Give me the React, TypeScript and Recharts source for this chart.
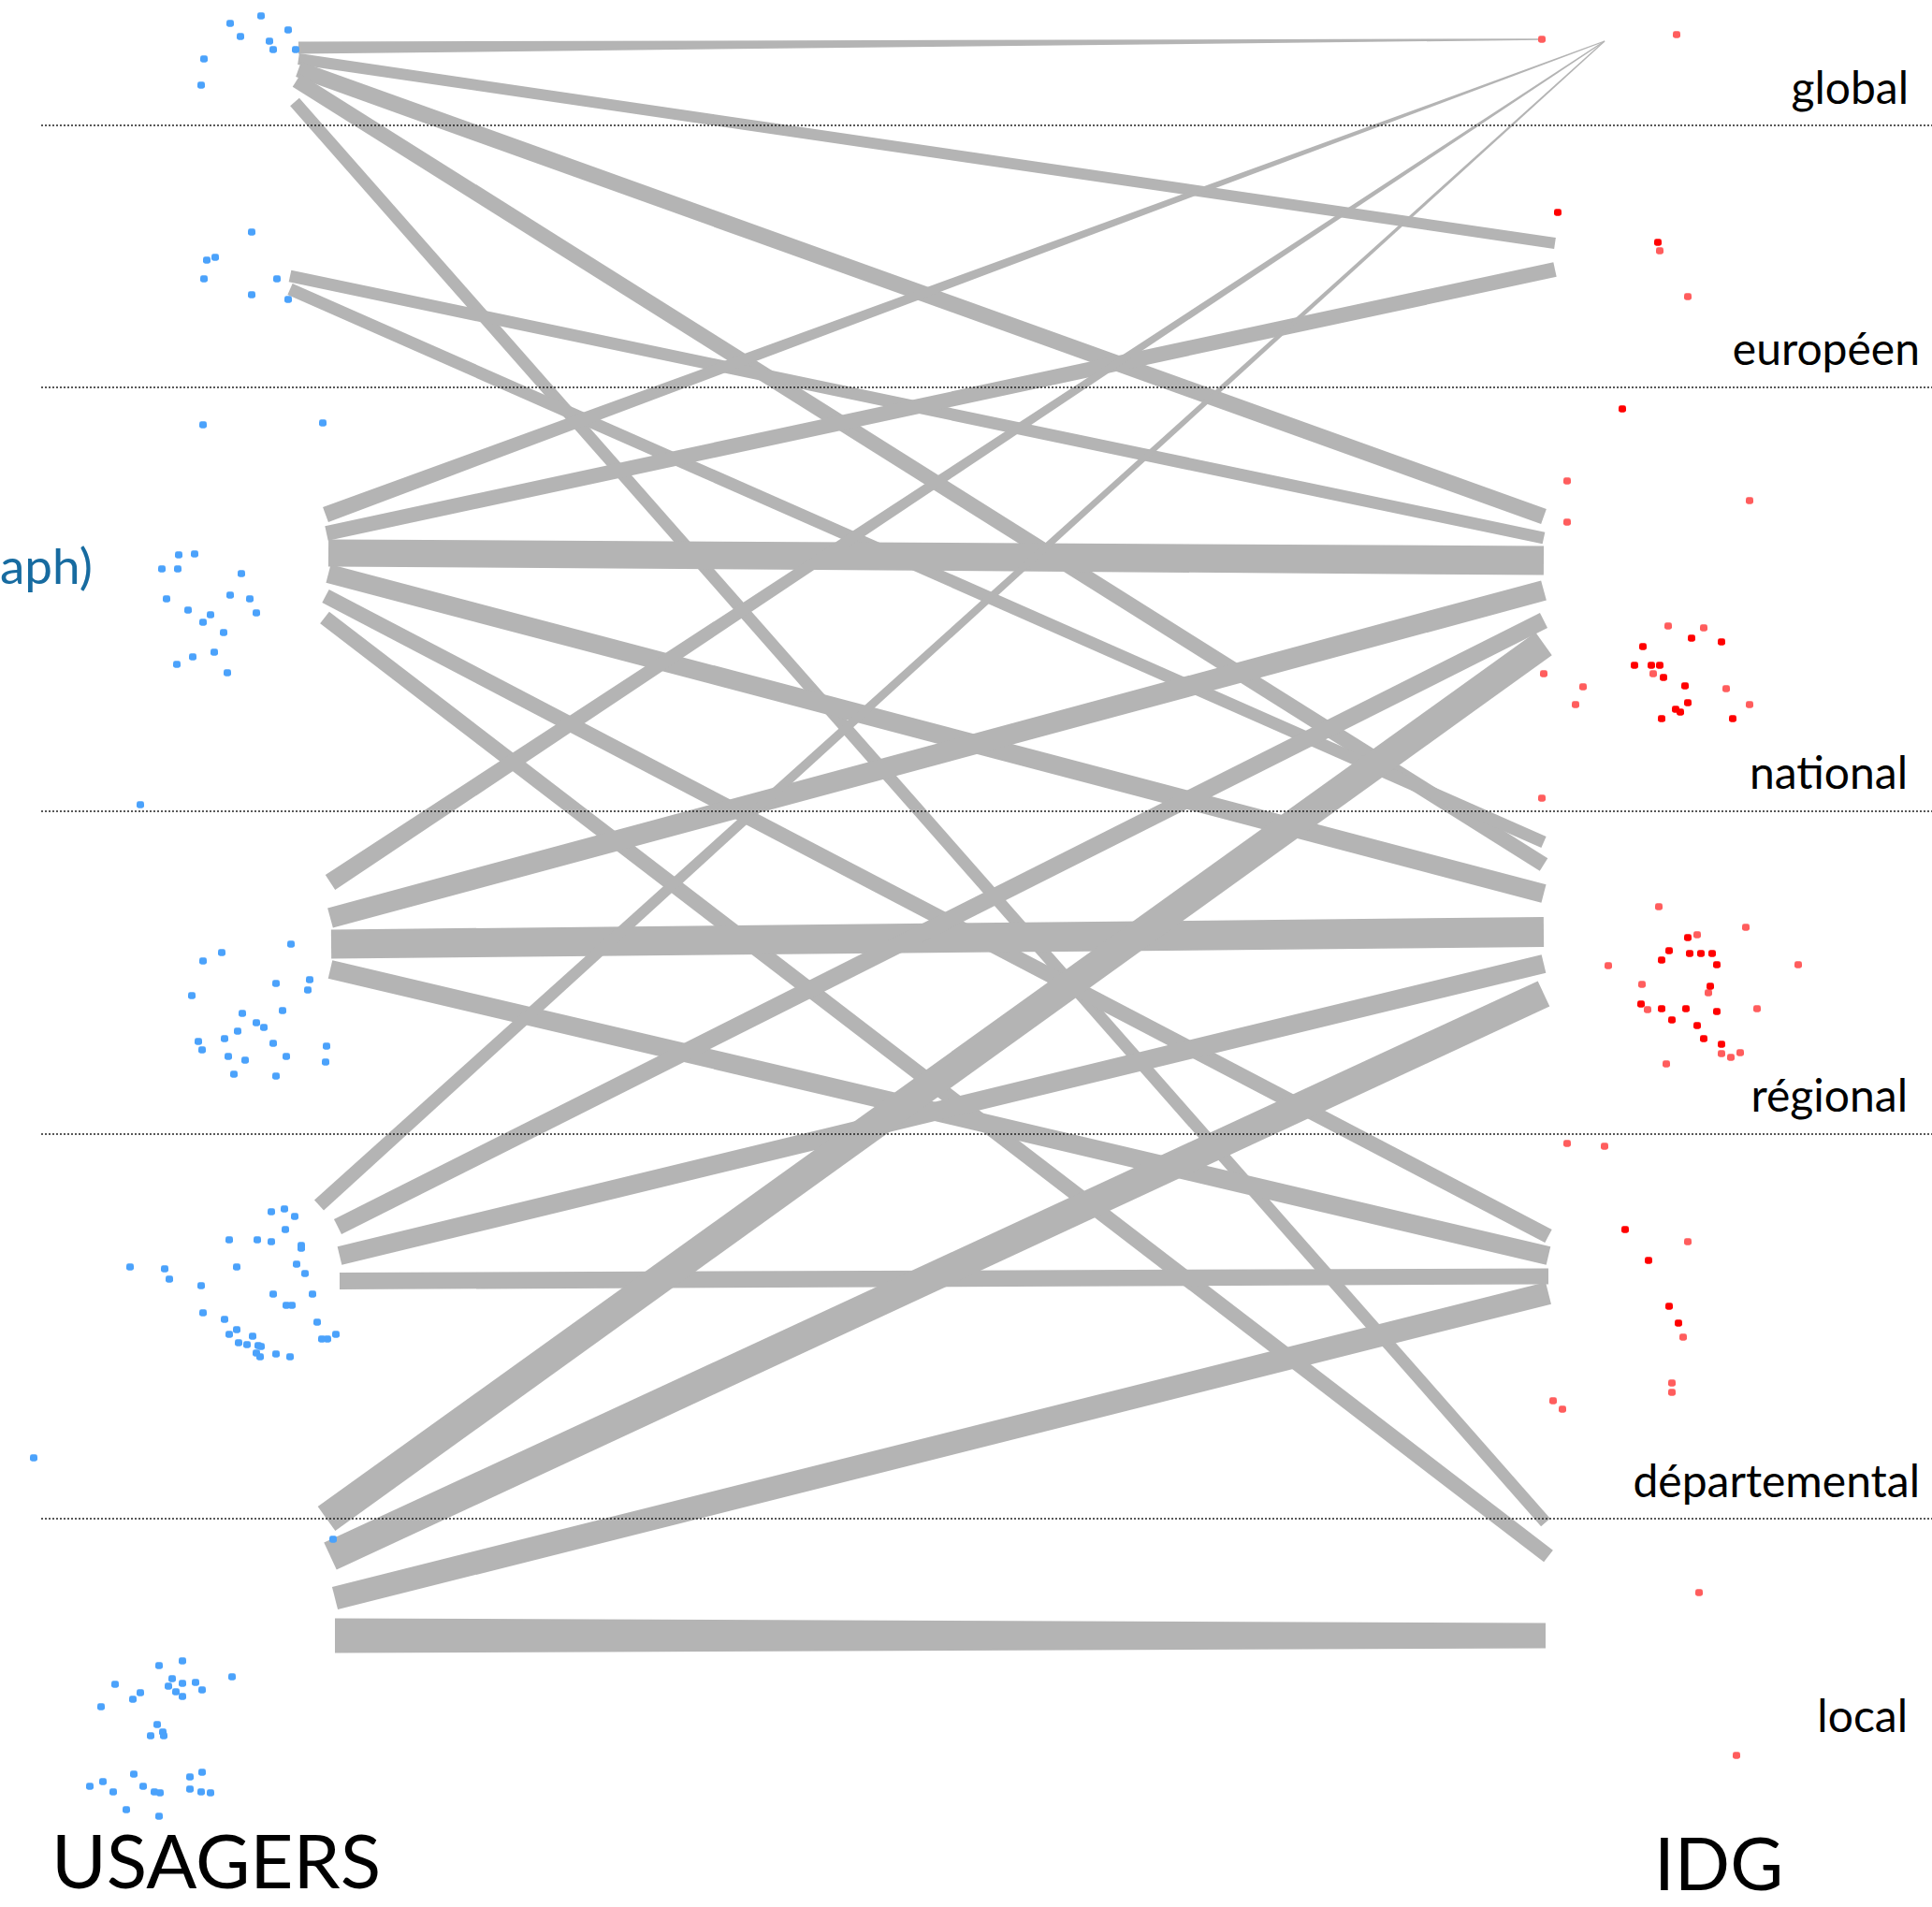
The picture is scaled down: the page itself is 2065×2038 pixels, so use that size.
import React from 'react';
import { ScatterChart, Scatter, XAxis, YAxis } from 'recharts';

const WIDTH = 2065;
const HEIGHT = 2038;

// niveaux territoriaux (colonne IDG, à droite), du haut vers le bas
const LEVELS = ['global', 'européen', 'national', 'régional', 'départemental', 'local'];
const LEVEL_SEPARATORS = [134, 414, 867, 1212, 1623];

// liens usagers -> IDG : point de départ (usagers), point d'arrivée (IDG)
const LINK_FROM: [number, number][] = [
  [319, 51], [319, 63], [319, 74], [317, 86], [315, 109],
  [310, 295], [310, 309],
  [348, 550], [349, 570], [351, 591], [351, 613], [348, 637], [347, 660],
  [353, 943], [353, 981], [354, 1009], [353, 1036],
  [341, 1288], [361, 1311], [363, 1342], [363, 1369],
  [349, 1623], [353, 1663], [358, 1708], [358, 1748],
];
const LINK_TO: [number, number][] = [
  [1649, 42], [1662, 260], [1650, 552], [1650, 924], [1652, 1627],
  [1650, 575], [1650, 900],
  [1715, 44], [1662, 288], [1650, 599], [1650, 955], [1655, 1321], [1655, 1663],
  [1715, 44], [1650, 631], [1650, 996], [1655, 1342],
  [1715, 44], [1650, 663], [1650, 1030], [1655, 1364],
  [1650, 688], [1650, 1062], [1655, 1382], [1652, 1748],
];
// épaisseur du lien côté usagers / côté IDG
const LINK_WEIGHT_FROM = [
  13, 12, 17, 16, 13,
  13, 13,
  17, 16, 29, 20, 16, 16,
  19, 22, 31, 20,
  15, 18, 20, 18,
  32, 32, 25, 37,
];
const LINK_WEIGHT_TO = [
  1.5, 12, 17, 16, 13,
  13, 13,
  1.2, 16, 31, 20, 16, 16,
  1.2, 22, 32, 20,
  1.2, 18, 20, 17,
  30, 30, 24, 27,
];

// nuages de points usagers (bleu)
const USAGER_DOTS: [number, number][] = [
  [246, 25], [279, 17], [308, 32], [257, 39], [288, 44], [292, 53], [316, 53], [218, 63], [215, 91],
  [269, 248], [221, 278], [230, 275], [218, 298], [296, 298], [269, 315], [308, 320],
  [217, 454], [345, 452],
  [191, 593], [208, 592], [173, 608], [190, 608], [258, 613], [178, 640], [246, 636], [267, 640],
  [274, 655], [201, 652], [225, 657], [217, 665], [239, 676], [229, 697], [206, 702], [189, 710], [243, 719],
  [150, 860],
  [217, 1027], [237, 1018], [311, 1009], [331, 1047], [329, 1058], [295, 1051], [205, 1064], [259, 1083],
  [274, 1093], [254, 1102], [282, 1098], [302, 1080], [240, 1110], [212, 1113], [292, 1115], [216, 1122],
  [306, 1129], [349, 1118], [244, 1129], [262, 1133], [348, 1135], [250, 1148], [295, 1150],
  [290, 1295], [304, 1292], [315, 1300], [305, 1314], [245, 1325], [275, 1325], [290, 1327], [322, 1331],
  [322, 1334], [139, 1354], [176, 1356], [181, 1367], [253, 1354], [317, 1351], [326, 1361], [215, 1374],
  [292, 1383], [306, 1395], [312, 1395], [334, 1383], [217, 1403], [240, 1410], [253, 1421], [245, 1426],
  [270, 1428], [255, 1435], [264, 1437], [276, 1438], [279, 1439], [274, 1446], [278, 1450], [295, 1447],
  [310, 1450], [339, 1413], [344, 1431], [350, 1431], [359, 1426],
  [36, 1558], [356, 1645],
  [170, 1780], [195, 1775], [123, 1800], [150, 1809], [142, 1816], [108, 1824], [184, 1794], [180, 1802],
  [188, 1808], [195, 1799], [195, 1813], [209, 1798], [216, 1806], [248, 1792], [168, 1843], [161, 1855],
  [174, 1851], [175, 1855], [96, 1909], [110, 1904], [121, 1915], [143, 1896], [153, 1909], [165, 1915],
  [171, 1916], [203, 1899], [216, 1894], [203, 1912], [215, 1915], [225, 1916], [135, 1934], [170, 1941],
];

// nuages de points IDG (rouge vif / rouge clair)
const IDG_DOTS_STRONG: [number, number][] = [
  [1665, 227], [1772, 259], [1734, 437],
  [1808, 682], [1840, 686], [1756, 691], [1747, 711], [1765, 711], [1774, 711], [1778, 724], [1801, 733],
  [1804, 751], [1791, 758], [1796, 761], [1776, 768], [1852, 768],
  [1804, 1002], [1784, 1016], [1806, 1019], [1818, 1019], [1830, 1019], [1776, 1026], [1835, 1031],
  [1828, 1054], [1754, 1073], [1776, 1078], [1802, 1078], [1835, 1081], [1787, 1090], [1814, 1096],
  [1821, 1110], [1840, 1116],
  [1737, 1314], [1762, 1347], [1784, 1396], [1794, 1414],
];
const IDG_DOTS_LIGHT: [number, number][] = [
  [1648, 42], [1792, 37], [1774, 268], [1804, 317], [1675, 514], [1870, 535], [1675, 558],
  [1783, 669], [1821, 671], [1650, 720], [1692, 734], [1845, 736], [1684, 753], [1870, 753], [1767, 720],
  [1648, 853],
  [1773, 969], [1866, 991], [1814, 999], [1719, 1032], [1922, 1031], [1755, 1052], [1826, 1061],
  [1761, 1079], [1878, 1078], [1840, 1126], [1850, 1130], [1860, 1125], [1781, 1137],
  [1675, 1222], [1715, 1225], [1804, 1327], [1799, 1429], [1787, 1478], [1787, 1488], [1660, 1497],
  [1670, 1506], [1816, 1702], [1856, 1876],
];

// placement des étiquettes de niveau (ancrées à droite)
const LEVEL_LABEL_ANCHORS: [number, number][] = [
  [2040, 111], [2052, 390], [2039, 843], [2039, 1188], [2052, 1600], [2039, 1851],
];

const LINK_COLOR = '#b4b4b4';
const FONT = 'Lato, "Open Sans", sans-serif';

const emptyShape = () => <g />;

const linkShape = (w0: number, w1: number) => (props: any) => {
  const pts = props.points;
  if (!pts || pts.length < 2) return <g />;
  const [a, b] = pts;
  const dx = b.x - a.x;
  const dy = b.y - a.y;
  const len = Math.hypot(dx, dy) || 1;
  const nx = -dy / len;
  const ny = dx / len;
  const d =
    `M${a.x + (nx * w0) / 2},${a.y + (ny * w0) / 2}` +
    `L${b.x + (nx * w1) / 2},${b.y + (ny * w1) / 2}` +
    `L${b.x - (nx * w1) / 2},${b.y - (ny * w1) / 2}` +
    `L${a.x - (nx * w0) / 2},${a.y - (ny * w0) / 2}Z`;
  return <path d={d} fill={LINK_COLOR} />;
};

const dotShape = (color: string) => (p: any) => (
  <rect x={p.cx - 4} y={p.cy - 3.7} width={8} height={7.4} rx={2.4} fill={color} />
);

const toPoints = (list: [number, number][]) => list.map(([x, y]) => ({ x, y }));

export default function App() {
  const labels = LEVELS.map((name, i) => ({
    x: LEVEL_LABEL_ANCHORS[i][0],
    y: LEVEL_LABEL_ANCHORS[i][1],
    name,
  }));

  return (
    <div style={{ position: 'absolute', left: 0, top: 0, width: WIDTH, height: HEIGHT, background: '#fff' }}>
      <ScatterChart width={WIDTH} height={HEIGHT} margin={{ top: 0, right: 0, bottom: 0, left: 0 }}>
        <XAxis type="number" dataKey="x" domain={[0, WIDTH]} allowDataOverflow hide />
        <YAxis type="number" dataKey="y" domain={[0, HEIGHT]} reversed allowDataOverflow hide />

        {LINK_FROM.map((from, i) => (
          <Scatter
            key={`link-${i}`}
            data={[
              { x: from[0], y: from[1] },
              { x: LINK_TO[i][0], y: LINK_TO[i][1] },
            ]}
            shape={emptyShape}
            line={linkShape(LINK_WEIGHT_FROM[i], LINK_WEIGHT_TO[i])}
            isAnimationActive={false}
          />
        ))}

        <Scatter data={toPoints(USAGER_DOTS)} shape={dotShape('#4ba2fb')} isAnimationActive={false} />
        <Scatter data={toPoints(IDG_DOTS_LIGHT)} shape={dotShape('#ff5d5d')} isAnimationActive={false} />
        <Scatter data={toPoints(IDG_DOTS_STRONG)} shape={dotShape('#ff0000')} isAnimationActive={false} />

        {LEVEL_SEPARATORS.map((y) => (
          <Scatter
            key={`sep-${y}`}
            data={[
              { x: 44, y },
              { x: WIDTH, y },
            ]}
            shape={emptyShape}
            line={{ stroke: '#222', strokeWidth: 1.7, strokeDasharray: '2 2' }}
            isAnimationActive={false}
          />
        ))}

        <Scatter
          data={labels}
          isAnimationActive={false}
          shape={(p: any) => (
            <text x={p.cx} y={p.cy} textAnchor="end" fontFamily={FONT} fontSize={48} fill="#000">
              {p.payload.name}
            </text>
          )}
        />

        <Scatter
          data={[
            { x: 55, y: 2018, name: 'USAGERS', size: 80, color: '#000', anchor: 'start' },
            { x: 1768, y: 2020, name: 'IDG', size: 78, color: '#000', anchor: 'start' },
            { x: 0, y: 624, name: 'aph)', size: 53, color: '#176ba0', anchor: 'start' },
          ]}
          isAnimationActive={false}
          shape={(p: any) => (
            <text
              x={p.cx}
              y={p.cy}
              textAnchor={p.payload.anchor}
              fontFamily={FONT}
              fontSize={p.payload.size}
              fill={p.payload.color}
            >
              {p.payload.name}
            </text>
          )}
        />
      </ScatterChart>
    </div>
  );
}
